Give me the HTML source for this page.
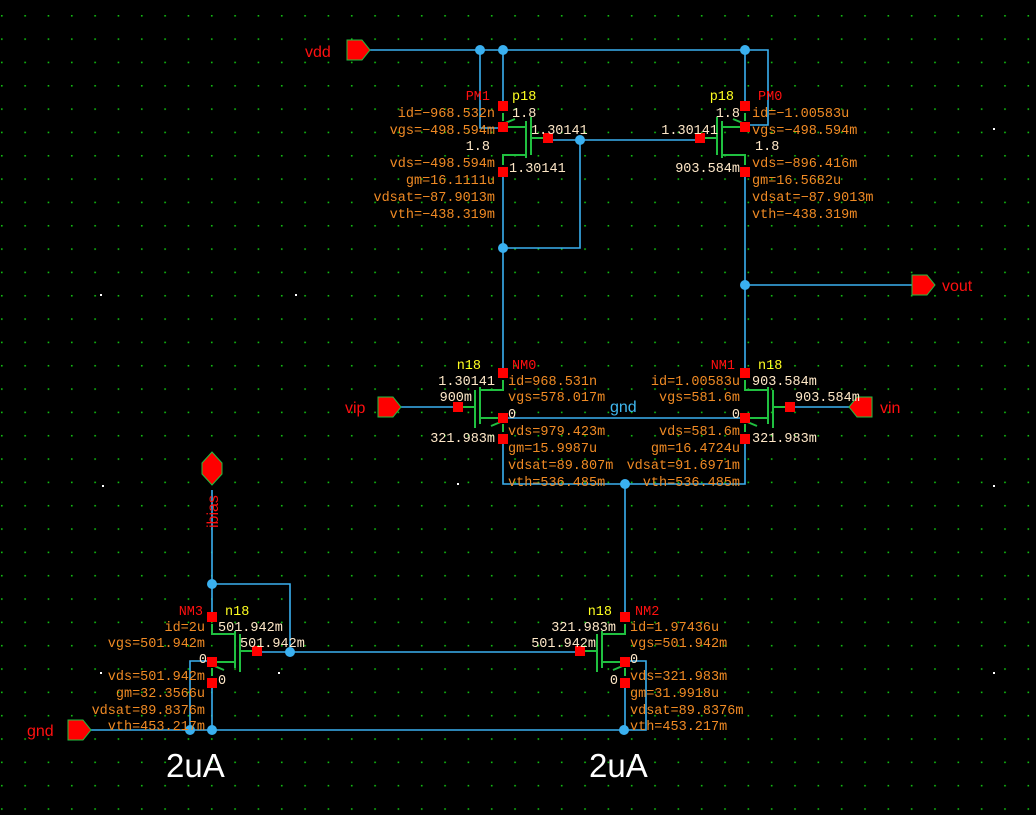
<!DOCTYPE html>
<html><head><meta charset="utf-8"><style>
html,body{margin:0;padding:0;background:#000;}
svg{display:block}
text{font-family:"Liberation Mono",monospace;font-size:13.5px;}
.o{fill:#f08a24}.w{fill:#ffe8c8}.r{fill:#ff1010}.y{fill:#ffff20}.b{fill:#40b8f0}
.e{text-anchor:end}
text.p{font-family:"Liberation Sans",sans-serif;font-size:16px}
text.big{font-family:"Liberation Sans",sans-serif;font-size:33px;fill:#fff}
</style></head><body>
<svg width="1036" height="815" viewBox="0 0 1036 815" xmlns="http://www.w3.org/2000/svg">
<defs>
<pattern id="g" x="1" y="15" width="23.33" height="23.33" patternUnits="userSpaceOnUse">
<rect x="0" y="0" width="1.6" height="1.6" fill="#10c010"/></pattern>
<g id="n">
<path d="M0,7 V17 H-23 M-23,14 V51 M-28,17 V55 M-45,34 H-28 M-23,45 H0 M0,51 V59 M-12,53 L0,48" stroke="#20c040" stroke-width="2" fill="none"/>
<rect x="-5" y="-5" width="10" height="10" fill="#ff0000"/>
<rect x="-50" y="29" width="10" height="10" fill="#ff0000"/>
<rect x="-5" y="40" width="10" height="10" fill="#ff0000"/>
<rect x="-5" y="61" width="10" height="10" fill="#ff0000"/>
</g>
</defs>
<rect width="1036" height="815" fill="#000"/>
<rect width="1036" height="815" fill="url(#g)"/>
<g fill="#fff"><rect x="100" y="294" width="2" height="2"/><rect x="295" y="294" width="2" height="2"/><rect x="102" y="485" width="2" height="2"/><rect x="457" y="483" width="2" height="2"/><rect x="100" y="672" width="2" height="2"/><rect x="278" y="672" width="2" height="2"/><rect x="993" y="128" width="2" height="2"/><rect x="993" y="485" width="2" height="2"/><rect x="993" y="672" width="2" height="2"/></g>

<g stroke="#3ab0f0" stroke-width="1.6" fill="none">
<path d="M370,50 H768 V125 H745"/>
<path d="M480,50 V128 H503"/>
<path d="M503,50 V106 M503,172 V373"/>
<path d="M745,50 V106 M745,172 V373"/>
<path d="M546,140 H700 M580,140 V248 H503"/>
<path d="M745,285 H912"/>
<path d="M400,407 H458 M790,407 H850"/>
<path d="M503,418 H745"/>
<path d="M503,439 V484 H745 V439"/>
<path d="M625,484 V617"/>
<path d="M580,652 H257"/>
<path d="M212,490 V617 M212,584 H290 V652"/>
<path d="M212,661 H190 V730 M212,683 V730"/>
<path d="M625,661 H646 V730 H625 M625,683 V730"/>
<path d="M90,730 H625"/>
</g>
<g fill="#3ab0f0">
<circle cx="480" cy="50" r="5"/><circle cx="503" cy="50" r="5"/><circle cx="745" cy="50" r="5"/>
<circle cx="580" cy="140" r="5"/><circle cx="503" cy="248" r="5"/><circle cx="745" cy="285" r="5"/>
<circle cx="625" cy="484" r="5"/><circle cx="212" cy="584" r="5"/><circle cx="290" cy="652" r="5"/>
<circle cx="190" cy="730" r="5"/><circle cx="212" cy="730" r="5"/><circle cx="624" cy="730" r="5"/>
</g>

<use href="#n" transform="translate(503,172) scale(-1,-1)"/>
<use href="#n" transform="translate(745,172) scale(1,-1)"/>
<use href="#n" transform="translate(503,373)"/>
<use href="#n" transform="translate(745,373) scale(-1,1)"/>
<use href="#n" transform="translate(212,617) scale(-1,1)"/>
<use href="#n" transform="translate(625,617)"/>

<g fill="#ff0000" stroke="#20c040" stroke-width="1">
<path d="M347,40 H362 L370,50 L362,60 H347 Z"/>
<path d="M912,275 H927 L935,285 L927,295 H912 Z"/>
<path d="M378,397 H393 L401,407 L393,417 H378 Z"/>
<path d="M872,397 H857 L849,407 L857,417 H872 Z"/>
<path d="M68,720 H83 L91,730 L83,740 H68 Z"/>
<path d="M212,452 L222,463 V474 L212,485 L202,474 V463 Z"/>
</g>
<text x="305" y="57" class="r p">vdd</text><text x="942" y="291" class="r p">vout</text>
<text x="345" y="413" class="r p">vip</text><text x="880" y="413" class="r p">vin</text>
<text x="27" y="736" class="r p">gnd</text>
<text transform="translate(218,528) rotate(-90)" class="r p">ibias</text>
<text x="610" y="412" class="b p">gnd</text>

<!-- PM1 -->
<text x="490" y="100" class="r e">PM1</text><text x="512" y="100" class="y">p18</text>
<text x="512" y="117" class="w">1.8</text><text x="531" y="134" class="w">1.30141</text>
<text x="490" y="150" class="w e">1.8</text><text x="509" y="172" class="w">1.30141</text>
<g class="o e"><text x="495" y="117">id=−968.532n</text><text x="495" y="134">vgs=−498.594m</text>
<text x="495" y="167">vds=−498.594m</text><text x="495" y="184">gm=16.1111u</text>
<text x="495" y="201">vdsat=−87.9013m</text><text x="495" y="218">vth=−438.319m</text></g>
<!-- PM0 -->
<text x="734" y="100" class="y e">p18</text><text x="758" y="100" class="r">PM0</text>
<text x="740" y="117" class="w e">1.8</text><text x="718" y="134" class="w e">1.30141</text>
<text x="755" y="150" class="w">1.8</text><text x="740" y="172" class="w e">903.584m</text>
<g class="o"><text x="752" y="117">id=−1.00583u</text><text x="752" y="134">vgs=−498.594m</text>
<text x="752" y="167">vds=−896.416m</text><text x="752" y="184">gm=16.5682u</text>
<text x="752" y="201">vdsat=−87.9013m</text><text x="752" y="218">vth=−438.319m</text></g>
<!-- NM0 -->
<text x="481" y="369" class="y e">n18</text><text x="512" y="369" class="r">NM0</text>
<text x="495" y="385" class="w e">1.30141</text><text x="472" y="401" class="w e">900m</text>
<text x="508" y="418" class="w">0</text><text x="495" y="442" class="w e">321.983m</text>
<g class="o"><text x="508" y="385">id=968.531n</text><text x="508" y="401">vgs=578.017m</text>
<text x="508" y="435">vds=979.423m</text><text x="508" y="452">gm=15.9987u</text>
<text x="508" y="469">vdsat=89.807m</text><text x="508" y="486">vth=536.485m</text></g>
<!-- NM1 -->
<text x="735" y="369" class="r e">NM1</text><text x="758" y="369" class="y">n18</text>
<text x="752" y="385" class="w">903.584m</text><text x="795" y="401" class="w">903.584m</text>
<text x="740" y="418" class="w e">0</text><text x="752" y="442" class="w">321.983m</text>
<g class="o e"><text x="740" y="385">id=1.00583u</text><text x="740" y="401">vgs=581.6m</text>
<text x="740" y="435">vds=581.6m</text><text x="740" y="452">gm=16.4724u</text>
<text x="740" y="469">vdsat=91.6971m</text><text x="740" y="486">vth=536.485m</text></g>
<!-- NM3 -->
<text x="203" y="615" class="r e">NM3</text><text x="225" y="615" class="y">n18</text>
<text x="218" y="631" class="w">501.942m</text><text x="240" y="647" class="w">501.942m</text>
<text x="207" y="663" class="w e">0</text><text x="218" y="684" class="w">0</text>
<g class="o e"><text x="205" y="631">id=2u</text><text x="205" y="647">vgs=501.942m</text>
<text x="205" y="680">vds=501.942m</text><text x="205" y="697">gm=32.3566u</text>
<text x="205" y="714">vdsat=89.8376m</text><text x="205" y="730">vth=453.217m</text></g>
<!-- NM2 -->
<text x="612" y="615" class="y e">n18</text><text x="635" y="615" class="r">NM2</text>
<text x="616" y="631" class="w e">321.983m</text><text x="596" y="647" class="w e">501.942m</text>
<text x="630" y="663" class="w">0</text><text x="618" y="684" class="w e">0</text>
<g class="o"><text x="630" y="631">id=1.97436u</text><text x="630" y="647">vgs=501.942m</text>
<text x="630" y="680">vds=321.983m</text><text x="630" y="697">gm=31.9918u</text>
<text x="630" y="714">vdsat=89.8376m</text><text x="630" y="730">vth=453.217m</text></g>

<text x="166" y="777" class="big">2uA</text><text x="589" y="777" class="big">2uA</text>
</svg>
</body></html>
